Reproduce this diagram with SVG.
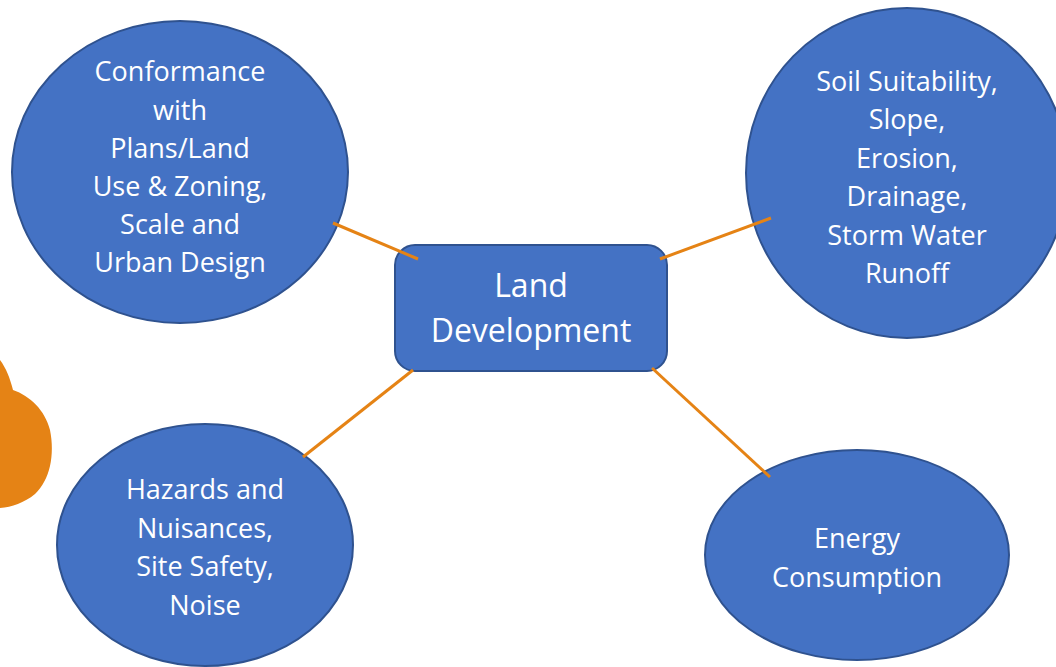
<svg xmlns="http://www.w3.org/2000/svg" width="1056" height="667" viewBox="0 0 1056 667">
  <style>
    .node { fill: #4472C4; stroke: #2F528F; stroke-width: 2; }
    .label { fill: #FFFFFF; font-family: "Open Sans", "Noto Sans", sans-serif; font-size: 27px; text-anchor: middle; }
    .title { font-size: 32px; }
    .link { stroke: #E58315; stroke-width: 3; fill: none; }
  </style>
  <rect width="1056" height="667" fill="#FFFFFF"/>

  <!-- decorative orange blob at the left edge -->
  <path d="M0,360 C6,368 10,378 13,390 C30,396 45,410 50,430 C55,455 50,480 35,494 C24,503 12,507 0,508 Z" fill="#E58315"/>

  <g id="node-conformance">
    <ellipse class="node" cx="180" cy="172" rx="168" ry="151"/>
    <text class="label"><tspan x="180" y="81">Conformance</tspan><tspan x="180" y="120">with</tspan><tspan x="180" y="158">Plans/Land</tspan><tspan x="180" y="196">Use &amp; Zoning,</tspan><tspan x="180" y="234">Scale and</tspan><tspan x="180" y="272">Urban Design</tspan></text>
  </g>

  <g id="node-soil">
    <ellipse class="node" cx="907" cy="173" rx="161" ry="165"/>
    <text class="label"><tspan x="907" y="91">Soil Suitability,</tspan><tspan x="907" y="129">Slope,</tspan><tspan x="907" y="168">Erosion,</tspan><tspan x="907" y="206">Drainage,</tspan><tspan x="907" y="245">Storm Water</tspan><tspan x="907" y="283">Runoff</tspan></text>
  </g>

  <g id="node-hazards">
    <ellipse class="node" cx="205" cy="545" rx="148" ry="121"/>
    <text class="label"><tspan x="205" y="499">Hazards and</tspan><tspan x="205" y="538">Nuisances,</tspan><tspan x="205" y="576">Site Safety,</tspan><tspan x="205" y="615">Noise</tspan></text>
  </g>

  <g id="node-energy">
    <ellipse class="node" cx="857" cy="555" rx="152" ry="105"/>
    <text class="label"><tspan x="857" y="548">Energy</tspan><tspan x="857" y="587">Consumption</tspan></text>
  </g>

  <g id="node-land-development">
    <rect class="node" x="395" y="245" width="272" height="126" rx="20" ry="20"/>
    <text class="label title"><tspan x="531" y="297">Land</tspan><tspan x="531" y="342">Development</tspan></text>
  </g>

  <g id="connectors">
    <line class="link" x1="418" y1="259" x2="333" y2="223"/>
    <line class="link" x1="660" y1="259" x2="771" y2="218"/>
    <line class="link" x1="413" y1="370" x2="303" y2="457"/>
    <line class="link" x1="652" y1="368" x2="770" y2="477"/>
  </g>
</svg>
